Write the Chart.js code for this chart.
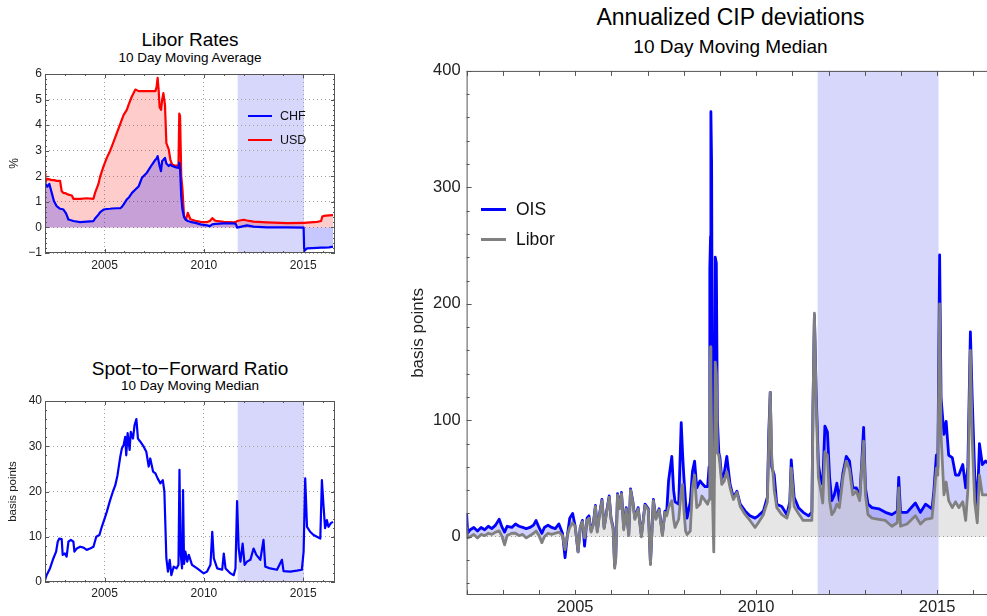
<!DOCTYPE html>
<html>
<head>
<meta charset="utf-8">
<script src="https://cdn.jsdelivr.net/npm/chart.js@4.4.0/dist/chart.umd.min.js"></script>
<style>
  html, body { margin: 0; padding: 0; background: #fff; }
  body { position: relative; width: 987px; height: 616px; overflow: hidden; font-family: "Liberation Sans", Arial, sans-serif; color: #000; }
  .box { position: absolute; }
  .title { position: absolute; text-align: center; white-space: nowrap; line-height: 1; }
  .legend { position: absolute; white-space: nowrap; line-height: 1; color: #111; }
  .swatch { position: absolute; }
</style>
</head>
<body>

<div class="title" style="left:45px; width:290px; top:30px; font-size:19px;">Libor Rates</div>
<div class="title" style="left:45px; width:290px; top:51px; font-size:13.5px;">10 Day Moving Average</div>
<div class="box" style="left:0; top:60px;"><canvas id="liborChart" width="345" height="215"></canvas></div>
<div class="swatch" style="left:248px; top:115px; width:24px; height:2.2px; background:#0000ff;"></div>
<div class="legend" style="left:280px; top:110px; font-size:12.5px;">CHF</div>
<div class="swatch" style="left:248px; top:139px; width:24px; height:2.2px; background:#ff0000;"></div>
<div class="legend" style="left:280px; top:134px; font-size:12.5px;">USD</div>

<div class="title" style="left:45px; width:290px; top:359px; font-size:19px;">Spot&minus;to&minus;Forward Ratio</div>
<div class="title" style="left:45px; width:290px; top:379px; font-size:13.5px;">10 Day Moving Median</div>
<div class="box" style="left:0; top:390px;"><canvas id="spotChart" width="345" height="215"></canvas></div>

<div class="title" style="left:466px; width:529px; top:6px; font-size:23px;">Annualized CIP deviations</div>
<div class="title" style="left:466px; width:529px; top:37px; font-size:19px;">10 Day Moving Median</div>
<div class="box" style="left:400px; top:55px;"><canvas id="cipChart" width="600" height="570"></canvas></div>
<div class="swatch" style="left:481px; top:208px; width:25px; height:2.8px; background:#0000ff;"></div>
<div class="legend" style="left:516px; top:201px; font-size:17.5px;">OIS</div>
<div class="swatch" style="left:481px; top:238px; width:25px; height:2.8px; background:#808080;"></div>
<div class="legend" style="left:516px; top:231px; font-size:17.5px;">Libor</div>

<script>
// Libor rates, 10 day moving average (%)
const liborYears = [2002.00, 2002.02, 2002.12, 2002.22, 2002.34, 2002.45, 2002.59, 2002.76, 2002.84, 2002.93,
  2003.06, 2003.18, 2003.35, 2003.43, 2003.77, 2004.10, 2004.44, 2004.52, 2004.69, 2004.78,
  2004.95, 2005.11, 2005.28, 2005.37, 2005.62, 2005.79, 2005.87, 2005.96, 2006.12, 2006.21,
  2006.38, 2006.55, 2006.71, 2006.88, 2007.13, 2007.39, 2007.56, 2007.62, 2007.67, 2007.72,
  2007.77, 2007.84, 2007.90, 2007.96, 2008.04, 2008.11, 2008.23, 2008.31, 2008.40, 2008.60,
  2008.72, 2008.76, 2008.80, 2008.86, 2008.92, 2009.00, 2009.09, 2009.19, 2009.32, 2009.57,
  2009.83, 2010.16, 2010.30, 2010.42, 2010.58, 2011.00, 2011.50, 2011.62, 2011.67, 2012.00,
  2012.17, 2012.50, 2013.17, 2014.18, 2015.02, 2015.05, 2015.19, 2015.70, 2015.90, 2015.96,
  2016.04, 2016.30, 2016.50];
const chfLibor = [1.75, 1.7, 1.6, 1.7, 1.35, 1.03, 0.83, 0.73, 0.72, 0.7,
  0.55, 0.31, 0.27, 0.25, 0.21, 0.23, 0.25, 0.35, 0.5, 0.6,
  0.7, 0.72, 0.73, 0.74, 0.75, 0.75, 0.8, 0.9, 1.1, 1.16,
  1.35, 1.48, 1.6, 1.94, 2.14, 2.46, 2.65, 2.7, 2.79, 2.6,
  2.4, 2.2, 2.6, 2.65, 2.72, 2.5, 2.4, 2.46, 2.4, 2.35,
  2.33, 2.53, 2.3, 1.2, 0.7, 0.4, 0.3, 0.25, 0.22, 0.18,
  0.12, 0.08, 0.05, 0.12, 0.14, 0.16, 0.16, 0.12, -0.01, 0.05,
  0.08, 0.03, 0.0, 0.0, -0.01, -0.92, -0.82, -0.8, -0.79, -0.79,
  -0.79, -0.78, -0.75];
const usdLibor = [2.1, 1.8, 1.9, 1.88, 1.85, 1.85, 1.82, 1.82, 1.42, 1.35,
  1.33, 1.28, 1.25, 1.12, 1.12, 1.14, 1.12, 1.35, 1.7, 2.0,
  2.4, 2.72, 3.0, 3.18, 3.7, 4.05, 4.22, 4.4, 4.6, 4.8,
  5.13, 5.39, 5.33, 5.33, 5.33, 5.33, 5.33, 5.5, 5.85, 5.4,
  4.7, 4.6, 5.0, 5.25, 4.8, 3.3, 3.05, 2.65, 2.46, 2.4,
  2.45, 4.45, 4.35, 2.0, 1.5, 0.44, 0.3, 0.57, 0.32, 0.26,
  0.22, 0.21, 0.25, 0.36, 0.26, 0.22, 0.2, 0.22, 0.25, 0.3,
  0.27, 0.23, 0.2, 0.17, 0.18, 0.18, 0.19, 0.22, 0.25, 0.43,
  0.45, 0.47, 0.48];

// Spot-to-forward ratio, 10 day moving median (basis points)
const spotYears = [2002.00, 2002.08, 2002.25, 2002.42, 2002.56, 2002.64, 2002.72, 2002.84, 2002.89, 2003.00,
  2003.09, 2003.18, 2003.30, 2003.43, 2003.48, 2003.60, 2003.77, 2003.94, 2004.10, 2004.27,
  2004.44, 2004.58, 2004.74, 2004.86, 2005.03, 2005.11, 2005.28, 2005.42, 2005.54, 2005.65,
  2005.79, 2005.87, 2005.96, 2006.04, 2006.09, 2006.16, 2006.26, 2006.32, 2006.43, 2006.51,
  2006.60, 2006.68, 2006.80, 2006.97, 2007.10, 2007.22, 2007.30, 2007.44, 2007.56, 2007.67,
  2007.81, 2007.93, 2008.01, 2008.11, 2008.19, 2008.28, 2008.36, 2008.48, 2008.62, 2008.72,
  2008.77, 2008.82, 2008.90, 2008.95, 2009.00, 2009.07, 2009.16, 2009.24, 2009.40, 2009.66,
  2009.99, 2010.16, 2010.33, 2010.42, 2010.50, 2010.67, 2010.92, 2011.00, 2011.09, 2011.34,
  2011.50, 2011.59, 2011.67, 2011.75, 2011.84, 2011.95, 2012.05, 2012.17, 2012.34, 2012.50,
  2012.64, 2012.84, 2013.00, 2013.09, 2013.34, 2013.68, 2013.93, 2014.01, 2014.35, 2014.68,
  2014.93, 2015.02, 2015.10, 2015.19, 2015.35, 2015.52, 2015.69, 2015.86, 2015.94, 2016.02,
  2016.10, 2016.19, 2016.27, 2016.39, 2016.50];
const spotRatio = [0.4, 1.5, 3, 5.2, 6.7, 8.9, 9.6, 9.5, 6, 6.3,
  5.6, 8.9, 9.3, 8.9, 6.7, 7.4, 7.8, 7.6, 7.1, 7.4,
  7.8, 10, 10.4, 12.2, 14.4, 15.5, 18.1, 20, 21.4, 23.6,
  27.7, 29.5, 30.3, 32.1, 28, 32.9, 29.2, 33.2, 31.7, 34.7,
  36, 31.7, 31, 29.9, 28.8, 25.5, 27.3, 24.4, 24, 22.9,
  21.8, 22.5, 20, 5.2, 2.3, 4.9, 1.5, 3.4, 3, 3.8,
  24.8, 6.7, 3, 20.3, 4, 6.7, 4.5, 6, 3.8, 3,
  1.9, 2.3, 3.8, 11.1, 5.2, 3, 2.7, 6.3, 3, 1.9,
  1.5, 3, 17.9, 7.4, 4.5, 8.5, 3.8, 4.5, 4.9, 7.4,
  6, 4.9, 9.3, 3.4, 3, 2.7, 4.9, 2.4, 2.3, 2.5,
  2.7, 6.7, 22.9, 12.2, 11.1, 10.4, 10, 9.6, 22.5, 17,
  11.9, 13.7, 12.2, 13, 13.3];

// Annualized CIP deviations, 10 day moving median (basis points)
const cipYears = [2002.00, 2002.03, 2002.10, 2002.20, 2002.30, 2002.40, 2002.50, 2002.60, 2002.70, 2002.80,
  2002.90, 2002.97, 2003.05, 2003.12, 2003.25, 2003.35, 2003.45, 2003.55, 2003.65, 2003.75,
  2003.85, 2003.92, 2004.00, 2004.08, 2004.15, 2004.25, 2004.35, 2004.45, 2004.55, 2004.65,
  2004.72, 2004.78, 2004.85, 2004.93, 2005.00, 2005.08, 2005.14, 2005.20, 2005.26, 2005.33,
  2005.38, 2005.44, 2005.50, 2005.56, 2005.61, 2005.67, 2005.74, 2005.80, 2005.87, 2005.94,
  2005.99, 2006.05, 2006.09, 2006.12, 2006.17, 2006.23, 2006.28, 2006.34, 2006.41, 2006.48,
  2006.53, 2006.59, 2006.65, 2006.74, 2006.83, 2006.93, 2007.02, 2007.08, 2007.16, 2007.23,
  2007.32, 2007.41, 2007.48, 2007.53, 2007.58, 2007.67, 2007.72, 2007.76, 2007.86, 2007.93,
  2007.97, 2008.00, 2008.05, 2008.09, 2008.18, 2008.24, 2008.30, 2008.36, 2008.45, 2008.50,
  2008.59, 2008.66, 2008.70, 2008.72, 2008.74, 2008.75, 2008.77, 2008.79, 2008.83, 2008.85,
  2008.87, 2008.90, 2008.93, 2008.97, 2009.00, 2009.05, 2009.12, 2009.19, 2009.28, 2009.37,
  2009.47, 2009.56, 2009.70, 2009.83, 2009.97, 2010.06, 2010.20, 2010.31, 2010.35, 2010.39,
  2010.43, 2010.50, 2010.57, 2010.71, 2010.85, 2010.93, 2010.97, 2011.05, 2011.17, 2011.30,
  2011.45, 2011.54, 2011.57, 2011.61, 2011.66, 2011.72, 2011.79, 2011.84, 2011.90, 2011.97,
  2012.03, 2012.09, 2012.16, 2012.23, 2012.30, 2012.40, 2012.49, 2012.58, 2012.67, 2012.77,
  2012.86, 2012.91, 2012.97, 2013.02, 2013.09, 2013.20, 2013.39, 2013.57, 2013.75, 2013.90,
  2013.94, 2013.99, 2014.17, 2014.40, 2014.54, 2014.68, 2014.86, 2014.91, 2014.98, 2015.02,
  2015.07, 2015.11, 2015.19, 2015.25, 2015.32, 2015.42, 2015.51, 2015.60, 2015.71, 2015.79,
  2015.85, 2015.92, 2015.97, 2016.04, 2016.11, 2016.17, 2016.25, 2016.34, 2016.42];
const oisDeviation = [20, 3, 6, 8, 5, 8, 6, 9, 7, 10,
  15, 9, 4, 9, 8, 11, 9, 8, 7, 8,
  10, 14, 8, 3, 8, 10, 8, 7, 11, 3,
  -18, 0, 16, 20, 9, -13, 8, 14, -8, 16,
  18, 5, 11, 27, 5, 19, 32, 8, 22, 35,
  16, 8, -25, -18, 37, 25, 38, 8, 25, 2,
  41, 31, 16, 25, 1, 28, 24, -23, 32, 16,
  24, 2, 22, 22, 48, 69, 40, 30, 28, 98,
  70, 53, 30, 16, 30, 56, 65, 42, 48, 46,
  43, 43, 60, 230, 258, 365, 320, 110, 50, 80,
  240, 235, 100, 72, 68, 50, 55, 69, 45, 34,
  39, 28, 22, 18, 16, 18, 22, 34, 90, 124,
  60, 53, 28, 26, 19, 30, 66, 34, 25, 21,
  18, 21, 110, 190, 122, 62, 48, 45, 95, 90,
  51, 31, 36, 46, 31, 55, 69, 65, 42, 42,
  34, 59, 94, 42, 28, 25, 24, 21, 19, 22,
  51, 21, 21, 29, 21, 28, 24, 39, 70, 59,
  242, 119, 88, 99, 70, 68, 53, 53, 62, 42,
  60, 176, 119, 53, 25, 80, 62, 65, 63];
const liborDeviation = [8, -1, 0, 2, -1, 2, 1, 3, 2, 4,
  5, 1, -7, 1, 3, 3, 1, 2, -1, 1,
  3, 5, 1, -5, 0, 3, 2, 3, 4, 1,
  -11, 1, 8, 12, 9, -13, 8, 13, -1, 14,
  16, 4, 10, 26, 4, 18, 31, 7, 21, 34,
  15, 6, -27, -20, 36, 24, 37, 6, 24, 1,
  40, 30, 15, 24, 0, 27, 23, -24, 31, 15,
  23, 1, 21, 18, 25, 31, 15, 8, 15, 39,
  45, 25, 5, 2, 5, 42, 53, 25, 28, 35,
  31, 28, 32, 100, 163, 140, 90, 40, -13, 60,
  150, 140, 72, 70, 62, 45, 48, 56, 42, 32,
  38, 26, 19, 14, 8, 12, 19, 30, 80, 124,
  70, 40, 25, 19, 16, 25, 59, 26, 20, 14,
  14, 14, 110, 192, 115, 51, 39, 29, 73, 70,
  31, 19, 22, 28, 25, 51, 65, 58, 36, 39,
  31, 56, 82, 36, 19, 16, 15, 14, 9, 12,
  42, 9, 11, 18, 11, 15, 16, 33, 59, 53,
  200, 87, 36, 47, 31, 25, 30, 25, 30, 14,
  40, 160, 85, 30, 12, 53, 36, 36, 36];

// shaded period and axis ticks
const floorPeriod = [2011.7, 2015.04];
const yearLabels = [2005, 2010, 2015];
const everyYear = [2002, 2003, 2004, 2005, 2006, 2007, 2008, 2009, 2010, 2011, 2012, 2013, 2014, 2015, 2016];
const percentTicks = [-1, 0, 1, 2, 3, 4, 5, 6];
const spotTicks = [0, 10, 20, 30, 40];
const cipTicks = [-100, 0, 100, 200, 300, 400];

function toPoints(xs, ys) {
    return xs.map((x, i) => ({ x: x, y: ys[i] }));
}

// minor tick marks between the major ones
function subdivide(major, parts) {
    const out = [];
    for (let i = 0; i < major.length - 1; i++) {
        const step = (major[i + 1] - major[i]) / parts;
        for (let k = 1; k < parts; k++) out.push(major[i] + k * step);
    }
    return out;
}

function minusSign(v) {
    return v < 0 ? '\u2212' + Math.abs(v) : String(v);
}

// shaded background band, drawn under the grid
const bandPlugin = {
    id: 'band',
    beforeDraw(chart, args, opts) {
        const { ctx, chartArea: a, scales: { x } } = chart;
        const x0 = Math.max(a.left, x.getPixelForValue(opts.from));
        const x1 = Math.min(a.right, x.getPixelForValue(opts.to));
        ctx.save();
        ctx.fillStyle = opts.color;
        ctx.fillRect(x0, a.top, x1 - x0, a.height);
        ctx.restore();
    }
};

// Mathematica-like frame with inward ticks on all sides
const framePlugin = {
    id: 'frame',
    afterDraw(chart, args, opts) {
        const { ctx, chartArea: a, scales: { x, y } } = chart;
        ctx.save();
        ctx.strokeStyle = opts.color;
        ctx.lineWidth = 1;
        ctx.strokeRect(a.left + 0.5, a.top + 0.5, a.width - 1, a.height - 1);
        ctx.beginPath();
        const xMarks = (vals, len) => vals.forEach(v => {
            if (v < x.min || v > x.max) return;
            const px = Math.round(x.getPixelForValue(v)) + 0.5;
            ctx.moveTo(px, a.bottom); ctx.lineTo(px, a.bottom - len);
            ctx.moveTo(px, a.top); ctx.lineTo(px, a.top + len);
        });
        const yMarks = (vals, len) => vals.forEach(v => {
            if (v < y.min || v > y.max) return;
            const py = Math.round(y.getPixelForValue(v)) + 0.5;
            ctx.moveTo(a.left, py); ctx.lineTo(a.left + len, py);
            ctx.moveTo(a.right, py); ctx.lineTo(a.right - len, py);
        });
        xMarks(opts.xMajor, opts.majorLen);
        xMarks(opts.xMinor, opts.minorLen);
        yMarks(opts.yMajor, opts.majorLen);
        yMarks(opts.yMinor, opts.minorLen);
        ctx.stroke();
        ctx.restore();
    }
};

function baseOptions(cfg) {
    return {
        responsive: false,
        animation: false,
        devicePixelRatio: 1,
        layout: { padding: cfg.padding },
        plugins: {
            legend: { display: false },
            tooltip: { enabled: false },
            band: { from: floorPeriod[0], to: floorPeriod[1], color: '#d7d7fb' },
            frame: cfg.frame
        },
        scales: {
            x: {
                type: 'linear',
                min: 2002,
                max: 2016.6,
                afterBuildTicks: s => { s.ticks = cfg.xTicks.map(v => ({ value: v })); },
                afterFit: s => { s.height = cfg.xHeight; },
                ticks: {
                    autoSkip: false, maxRotation: 0, padding: cfg.xPad,
                    color: '#222', font: { family: 'Liberation Sans', size: cfg.tickSize },
                    callback: v => (v % 5 === 0 ? String(v) : '')
                },
                grid: { display: cfg.xGrid, drawTicks: false, color: '#a0a0a0', lineWidth: 1 },
                border: { display: false, dash: [1, 3] }
            },
            y: {
                type: 'linear',
                min: cfg.yMin,
                max: cfg.yMax,
                afterBuildTicks: s => { s.ticks = cfg.yTicks.filter(v => v >= cfg.yMin && v <= cfg.yMax).map(v => ({ value: v })); },
                afterFit: s => { s.width = cfg.yWidth; },
                ticks: {
                    padding: cfg.yPad,
                    color: '#222', font: { family: 'Liberation Sans', size: cfg.tickSize },
                    callback: v => minusSign(v)
                },
                grid: { drawTicks: false, color: cfg.yGridColor, lineWidth: 1 },
                border: { display: false, dash: [1, 3] },
                title: {
                    display: true, text: cfg.yTitle, color: '#222',
                    font: { family: 'Liberation Sans', size: cfg.yTitleSize },
                    padding: { top: cfg.yTitlePad, bottom: 0 }
                }
            }
        }
    };
}

const lineStyle = { pointRadius: 0, tension: 0, borderJoinStyle: 'round' };

new Chart(document.getElementById('liborChart'), {
    type: 'line',
    data: {
        datasets: [
            Object.assign({ label: 'CHF', data: toPoints(liborYears, chfLibor), borderColor: '#0000ff',
                backgroundColor: 'rgba(0,0,255,0.22)', fill: 'origin', borderWidth: 2.2 }, lineStyle),
            Object.assign({ label: 'USD', data: toPoints(liborYears, usdLibor), borderColor: '#ff0000',
                backgroundColor: 'rgba(255,0,0,0.2)', fill: 'origin', borderWidth: 2.2 }, lineStyle)
        ]
    },
    options: baseOptions({
        padding: { top: 14, right: 10, left: 0, bottom: 0 },
        xTicks: yearLabels, xHeight: 22, xPad: 5, xGrid: true,
        yMin: -1, yMax: 6, yTicks: percentTicks, yWidth: 45, yPad: 3,
        yGridColor: '#a0a0a0', tickSize: 12,
        yTitle: '%', yTitleSize: 12, yTitlePad: 7,
        frame: { color: '#555', xMajor: yearLabels, xMinor: everyYear, yMajor: percentTicks,
            yMinor: subdivide(percentTicks, 5), majorLen: 4, minorLen: 2 }
    }),
    plugins: [bandPlugin, framePlugin]
});

new Chart(document.getElementById('spotChart'), {
    type: 'line',
    data: {
        datasets: [
            Object.assign({ label: 'Spot-to-Forward', data: toPoints(spotYears, spotRatio), borderColor: '#0000ff',
                fill: false, borderWidth: 2.2 }, lineStyle)
        ]
    },
    options: baseOptions({
        padding: { top: 11, right: 10, left: 0, bottom: 0 },
        xTicks: yearLabels, xHeight: 23, xPad: 4, xGrid: true,
        yMin: 0, yMax: 40, yTicks: spotTicks, yWidth: 45, yPad: 3,
        yGridColor: '#a0a0a0', tickSize: 12,
        yTitle: 'basis points', yTitleSize: 11.5, yTitlePad: 6,
        frame: { color: '#555', xMajor: yearLabels, xMinor: everyYear, yMajor: spotTicks,
            yMinor: subdivide(spotTicks, 5), majorLen: 4, minorLen: 2 }
    }),
    plugins: [bandPlugin, framePlugin]
});

new Chart(document.getElementById('cipChart'), {
    type: 'line',
    data: {
        datasets: [
            Object.assign({ label: 'OIS', data: toPoints(cipYears, oisDeviation), borderColor: '#0000ff',
                backgroundColor: 'rgba(0,0,255,0.18)', fill: 1, borderWidth: 2.8, order: 2 }, lineStyle),
            Object.assign({ label: 'Libor', data: toPoints(cipYears, liborDeviation), borderColor: '#808080',
                backgroundColor: 'rgba(128,128,128,0.2)', fill: 'origin', borderWidth: 2.8, order: 1 }, lineStyle)
        ]
    },
    options: baseOptions({
        padding: { top: 12, right: 5, left: 0, bottom: 0 },
        xTicks: everyYear, xHeight: 30, xPad: 3, xGrid: false,
        yMin: -50, yMax: 400, yTicks: cipTicks, yWidth: 66.6, yPad: 6,
        yGridColor: ctx => (ctx.tick && ctx.tick.value === 0 ? '#9a9a9a' : 'rgba(0,0,0,0)'),
        tickSize: 16.5,
        yTitle: 'basis points', yTitleSize: 17, yTitlePad: 8,
        frame: { color: '#555', xMajor: everyYear, xMinor: [], yMajor: cipTicks,
            yMinor: subdivide(cipTicks, 5), majorLen: 5, minorLen: 3 }
    }),
    plugins: [bandPlugin, framePlugin]
});
</script>
</body>
</html>
